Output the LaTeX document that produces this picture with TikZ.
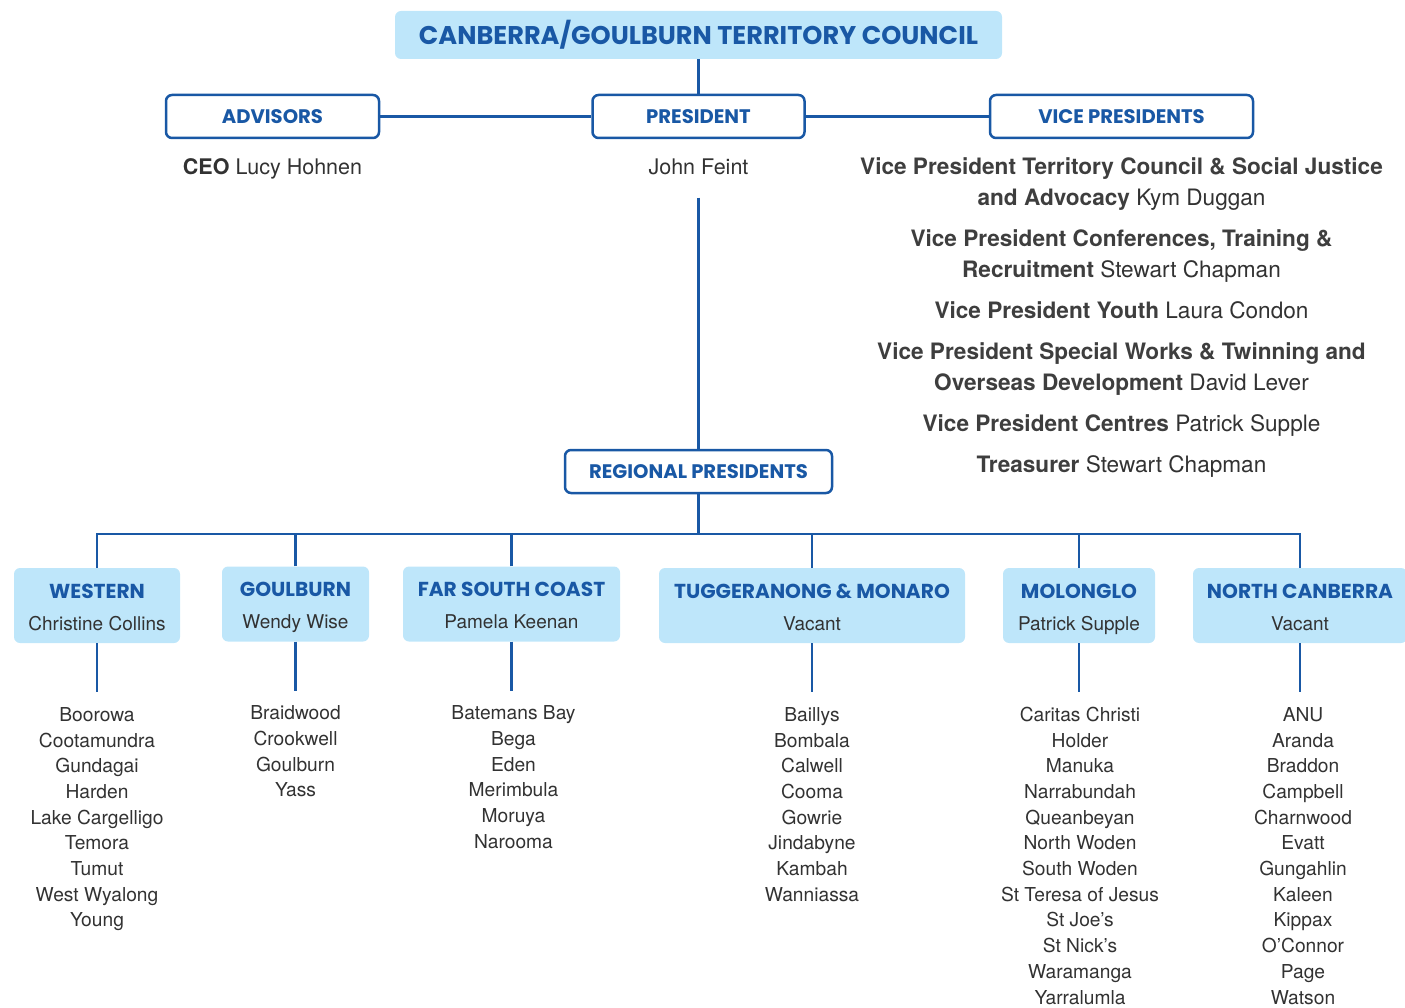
\documentclass[tikz,border=0pt]{standalone}
\usepackage{fontspec}
\setmainfont{TeX Gyre Heros}
\newfontfamily\headfont{Poppins}
\usepackage{tikz}
\usetikzlibrary{positioning}
\definecolor{councilBlue}{RGB}{25,88,165}
\definecolor{paleBlue}{RGB}{190,230,250}
\definecolor{textGray}{RGB}{50,50,50}
\definecolor{boldGray}{RGB}{62,62,62}
\newcommand\regionhead[1]{\rule{0pt}{22pt}{\headfont\bfseries\fontsize{20.2}{32}\selectfont\color{councilBlue}#1}}
\newcommand\regionname[1]{#1\rule[-5pt]{0pt}{5pt}}
\newcommand\vpname[1]{{\color{textGray}\mdseries #1}}

\begin{document}
\begin{tikzpicture}[
  x=1pt, y=-1pt,
  council/.style={rectangle, rounded corners=6pt, fill=paleBlue, minimum width=607pt, minimum height=48pt, text=councilBlue, font=\headfont\bfseries\fontsize{25.6}{30}\selectfont},
  office/.style={rectangle, rounded corners=6pt, draw=councilBlue, line width=2.5pt, fill=white, minimum height=43pt, text=councilBlue, font=\headfont\bfseries\fontsize{19.6}{22}\selectfont},
  holder/.style={inner sep=0pt, text=textGray, font=\fontsize{21.5}{25}\selectfont},
  vp/.style={inner sep=0pt, anchor=north, align=center, text=boldGray, font=\bfseries\fontsize{22.6}{31}\selectfont},
  region/.style={rectangle, rounded corners=6pt, fill=paleBlue, minimum height=75pt, align=center, text=textGray, font=\fontsize{19}{32}\selectfont},
  parish/.style={inner sep=0pt, anchor=north, align=center, text=textGray, font=\fontsize{19.2}{25.7}\selectfont},
  link/.style={councilBlue, line width=2.5pt}
]
\useasboundingbox (0,0) rectangle (1405,1008);
\clip (0,0) rectangle (1405,1008);

% Top level
\node (council) [council] at (698.5,35) {CANBERRA/GOULBURN TERRITORY COUNCIL};
\node (advisors) [office, minimum width=213pt] at (272.5,116.5) {ADVISORS};
\node (president) [office, minimum width=212pt] at (698.5,116.5) {PRESIDENT};
\node (vicepres) [office, minimum width=263pt] at (1121.5,116.5) {VICE PRESIDENTS};

\node (ceo) [holder, below=19pt of advisors] {\textbf{CEO} Lucy Hohnen};
\node (feint) [holder, below=19pt of president] {John Feint};
\node (vplist) [vp, below=13pt of vicepres] {%
  \strut Vice President Territory Council \& Social Justice\\
  and Advocacy \vpname{Kym Duggan}\\[10pt]
  Vice President Conferences, Training \&\\
  Recruitment \vpname{Stewart Chapman}\\[10pt]
  Vice President Youth \vpname{Laura Condon}\\[10pt]
  Vice President Special Works \& Twinning and\\
  Overseas Development \vpname{David Lever}\\[10pt]
  Vice President Centres \vpname{Patrick Supple}\\[10pt]
  Treasurer \vpname{Stewart Chapman}};

\node (regional) [office, minimum width=267pt] at (698.5,471.5) {REGIONAL PRESIDENTS};
\coordinate (bus) at (698.5,534);

% Regions
\node (western) [region, minimum width=166pt] at (97,605.5) {\regionhead{WESTERN}\\\regionname{Christine Collins}};
\node (goulburn) [region, minimum width=147pt] at (295.5,604) {\regionhead{GOULBURN}\\\regionname{Wendy Wise}};
\node (farsouth) [region, minimum width=217pt] at (511.5,604) {\regionhead{FAR SOUTH COAST}\\\regionname{Pamela Keenan}};
\node (tuggeranong) [region, minimum width=306pt] at (812,605.5) {\regionhead{TUGGERANONG \& MONARO}\\\regionname{Vacant}};
\node (molonglo) [region, minimum width=152pt] at (1079,605.5) {\regionhead{MOLONGLO}\\\regionname{Patrick Supple}};
\node (northcbr) [region, minimum width=214pt] at (1300,605.5) {\regionhead{NORTH CANBERRA}\\\regionname{Vacant}};

% Parishes
\node (westlist) [parish, below=60pt of western] {\strut Boorowa\\Cootamundra\\Gundagai\\Harden\\Lake Cargelligo\\Temora\\Tumut\\West Wyalong\\Young};
\node (goulburnlist) [parish, below=60pt of goulburn] {\strut Braidwood\\Crookwell\\Goulburn\\Yass};
\node (farsouthlist) [parish, below=60pt of farsouth, xshift=2pt] {\strut Batemans Bay\\Bega\\Eden\\Merimbula\\Moruya\\Narooma};
\node (tuggeranonglist) [parish, below=60pt of tuggeranong] {\strut Baillys\\Bombala\\Calwell\\Cooma\\Gowrie\\Jindabyne\\Kambah\\Wanniassa};
\node (molonglolist) [parish, below=60pt of molonglo, xshift=1pt] {\strut Caritas Christi\\Holder\\Manuka\\Narrabundah\\Queanbeyan\\North Woden\\South Woden\\St Teresa of Jesus\\St Joe’s\\St Nick’s\\Waramanga\\Yarralumla};
\node (northcbrlist) [parish, below=60pt of northcbr, xshift=3pt] {\strut ANU\\Aranda\\Braddon\\Campbell\\Charnwood\\Evatt\\Gungahlin\\Kaleen\\Kippax\\O’Connor\\Page\\Watson};

% Lines
\draw [link] (council) -- (president);
\draw [link] (advisors) -- (president);
\draw [link] (president) -- (vicepres);
\draw [link, shorten <=23pt] (feint.south) -- (regional.north);
\draw [link] (regional) -- (bus);
\draw [link] (western.north) |- (bus) -| (northcbr.north);
\draw [link] (goulburn.north) -- (goulburn.north |- bus);
\draw [link] (farsouth.north) -- (farsouth.north |- bus);
\draw [link] (tuggeranong.north) -- (tuggeranong.north |- bus);
\draw [link] (molonglo.north) -- (molonglo.north |- bus);
\draw [link, shorten >=11pt] (western) -- (western |- westlist.north);
\draw [link, shorten >=11pt] (goulburn) -- (goulburn |- goulburnlist.north);
\draw [link, shorten >=11pt] (farsouth) -- (farsouth |- farsouthlist.north);
\draw [link, shorten >=11pt] (tuggeranong) -- (tuggeranong |- tuggeranonglist.north);
\draw [link, shorten >=11pt] (molonglo) -- (molonglo |- molonglolist.north);
\draw [link, shorten >=11pt] (northcbr) -- (northcbr |- northcbrlist.north);

\end{tikzpicture}
\end{document}
